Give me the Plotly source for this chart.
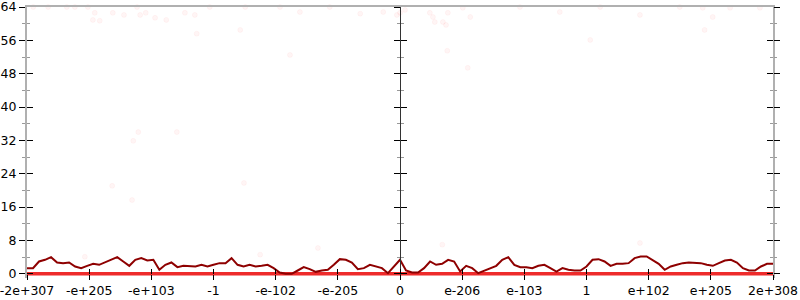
import plotly.graph_objects as go

# ---- data ----
x_tick_labels = ["-2e+307", "-e+205", "-e+103", "-1", "-e-102", "-e-205", "0",
                 "e-206", "e-103", "1", "e+102", "e+205", "2e+308"]
y_tick_values = [0, 8, 16, 24, 32, 40, 48, 56, 64]
y_minor_values = [4, 12, 20, 28, 36, 44, 52, 60]

# dark-red curve, sampled evenly across the ordinal axis (0..12)
curve_values = [
    1.36, 1.36, 2.96, 3.36, 4.00, 2.72, 2.56, 2.72, 1.76, 1.36,
    1.92, 2.40, 2.16, 2.72, 3.36, 4.00, 2.96, 1.92, 3.36, 3.76,
    3.20, 3.36, 0.96, 2.16, 2.72, 1.60, 1.92, 1.92, 1.76, 2.16,
    1.76, 2.16, 2.56, 2.56, 3.76, 2.16, 1.76, 2.16, 1.76, 1.92,
    2.16, 1.36, 0.32, 0.00, 0.00, 0.80, 1.60, 1.12, 0.48, 0.80,
    0.96, 2.16, 3.52, 3.36, 2.72, 1.12, 1.36, 2.16, 1.76, 1.36,
    0.16, 1.76, 3.36, 0.80, 0.32, 0.32, 1.36, 2.96, 2.16, 2.40,
    3.36, 2.96, 0.56, 1.92, 1.36, 0.16, 0.80, 1.36, 1.92, 3.36,
    4.00, 2.16, 1.60, 1.60, 1.36, 1.92, 2.16, 1.36, 0.56, 1.36,
    0.96, 0.80, 0.80, 1.76, 3.36, 3.52, 2.96, 1.92, 2.40, 2.40,
    2.56, 3.76, 4.16, 4.16, 3.36, 2.40, 0.96, 1.76, 2.16, 2.56,
    2.72, 2.56, 2.56, 2.16, 1.92, 2.56, 3.20, 3.36, 2.72, 1.36,
    0.80, 0.80, 1.76, 2.40, 2.40,
]
curve_x = [12 * i / (len(curve_values) - 1) for i in range(len(curve_values))]

baseline_x = [0, 12]
baseline_values = [0, 0]

# faint scattered points
dots_x = [0.10, 0.34, 0.64, 0.77, 0.98, 1.09, 1.06, 1.17, 1.38, 1.56, 1.77, 1.82,
          1.91, 2.06, 2.24, 2.54, 2.70, 2.73, 5.73, 5.95, 6.00, 6.08, 6.48, 6.53,
          6.56, 6.69, 6.74, 6.77, 6.76, 7.09, 7.01, 7.13, 10.87, 11.03, 10.90,
          11.31, 11.79, 1.79, 1.71, 2.41, 1.37, 3.49, 1.69, 0.93, 4.68, 6.68,
          9.86, 3.75, 2.94, 3.51, 4.07, 4.39, 4.87, 5.36, 7.93, 8.57, 9.22, 9.86,
          10.50, 3.43, 9.06, 4.23]
dots_y = [64, 64, 64, 64, 64, 62.6, 60.9, 60.7, 62.6, 62.1, 64, 62.1,
          62.6, 61.4, 60.9, 62.6, 62.1, 57.6, 62.8, 62.1, 62.6, 63.3, 62.6, 61.6,
          60.4, 60.4, 59.7, 62.6, 53.5, 49.4, 63.8, 61.6, 63.8, 61.6, 58.5,
          63.8, 63.8, 34.0, 31.9, 34.0, 21.1, 21.8, 17.7, 4.1, 6.2, 7.0,
          7.4, 4.6, 64, 64, 64, 62.8, 64, 62.4, 64, 62.8, 64, 62.1,
          64, 58.5, 56.1, 52.5]

FONT = "DejaVu Sans"
Y_RANGE = [-1, 64]          # small pad below 0 so the baseline is not clipped
X_POS = (0 - Y_RANGE[0]) / (Y_RANGE[1] - Y_RANGE[0])  # where y=0 sits in the plot

fig = go.Figure()
fig.add_trace(go.Scatter(x=dots_x, y=dots_y, mode="markers",
                         marker=dict(size=5, color="rgba(255,0,0,0.04)",
                                     line=dict(width=1, color="rgba(255,0,0,0.035)")),
                         cliponaxis=False, showlegend=False, hoverinfo="skip"))
fig.add_trace(go.Scatter(x=baseline_x, y=baseline_values, mode="lines",
                         line=dict(color="#ee2b2b", width=3.5),
                         cliponaxis=False, showlegend=False))
fig.add_trace(go.Scatter(x=curve_x, y=curve_values, mode="lines",
                         line=dict(color="#8e0000", width=2),
                         cliponaxis=False, showlegend=False))

# empty traces to bind helper axes
for ya in ["y2", "y3", "y4", "y5", "y6"]:
    fig.add_trace(go.Scatter(x=[], y=[], yaxis=ya, showlegend=False, hoverinfo="skip"))
for xa in ["x2", "x3"]:
    fig.add_trace(go.Scatter(x=[], y=[], xaxis=xa, showlegend=False, hoverinfo="skip"))

tick_vals_x = list(range(len(x_tick_labels)))


def y_helper(ticks, **kw):
    d = dict(range=Y_RANGE, autorange=False, tickvals=y_tick_values, ticks=ticks,
             ticklen=6, tickwidth=1, tickcolor="#000", showticklabels=False,
             showgrid=False, zeroline=False, overlaying="y", automargin=False,
             minor=dict(tickvals=y_minor_values, ticks=ticks, ticklen=3,
                        tickwidth=1, tickcolor="#999"))
    d.update(kw)
    return d


fig.update_layout(
    width=800, height=300,
    margin=dict(l=27, r=27, t=7, b=22, autoexpand=False),
    paper_bgcolor="white", plot_bgcolor="white",
    font=dict(family=FONT, size=12.5, color="#000"),
    xaxis=dict(range=[0, 12], autorange=False, tickvals=tick_vals_x,
               ticktext=x_tick_labels, ticks="outside", ticklen=5, tickwidth=1,
               tickcolor="#000", showline=False, showgrid=False, zeroline=False,
               anchor="free", position=X_POS,
               automargin=False, ticklabeloverflow="allow",
               tickfont=dict(family=FONT, size=12.5)),
    xaxis2=dict(range=[0, 12], autorange=False, tickvals=tick_vals_x,
                ticks="inside", ticklen=5, tickwidth=1, tickcolor="#000",
                showticklabels=False, showline=False, showgrid=False,
                zeroline=False, overlaying="x", anchor="free", position=X_POS,
                automargin=False),
    xaxis3=dict(range=[0, 12], autorange=False, ticks="", showticklabels=False,
                showline=True, linecolor="#b0b0b0", linewidth=2, side="top",
                showgrid=False, zeroline=False, overlaying="x", anchor="y",
                automargin=False),
    yaxis=dict(range=Y_RANGE, autorange=False, tickvals=y_tick_values,
               ticks="outside", ticklen=6, tickwidth=1, tickcolor="#000",
               showline=True, linecolor="#b0b0b0", linewidth=2, mirror=True,
               showgrid=False, zeroline=False, automargin=False,
               ticklabeloverflow="allow",
               tickfont=dict(family=FONT, size=12.5),
               minor=dict(tickvals=y_minor_values, ticks="outside", ticklen=3,
                          tickwidth=1, tickcolor="#999")),
    yaxis2=y_helper("inside", anchor="x"),
    yaxis3=y_helper("outside", anchor="x", side="right"),
    yaxis4=y_helper("inside", anchor="x", side="right"),
    yaxis5=y_helper("outside", anchor="free", position=0.5, showline=True,
                    linecolor="#333", linewidth=1),
    yaxis6=y_helper("inside", anchor="free", position=0.5),
)

fig.write_html("out.html")
